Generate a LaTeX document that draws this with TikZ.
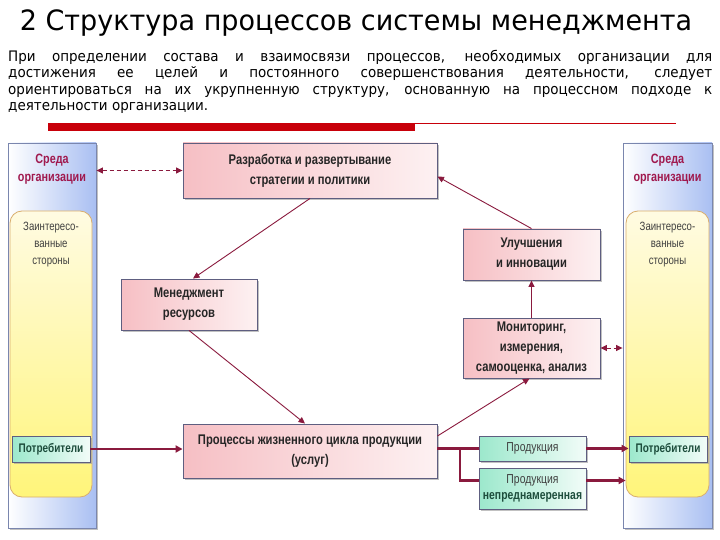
\documentclass[tikz,border=0pt]{standalone}
\usepackage{fontspec}
\setmainfont{DejaVu Sans}
\newfontfamily\titlefont[FakeStretch=0.965]{DejaVu Sans}
\newfontfamily\parafont[FakeStretch=0.93]{DejaVu Sans}
\newfontfamily\nar[FakeStretch=0.80]{Liberation Sans}
\usetikzlibrary{shadows,arrows.meta}
\definecolor{conn}{HTML}{8A1A3E}
\definecolor{boxborder}{HTML}{5E5E80}
\definecolor{pinkL}{HTML}{F6BFC4}
\definecolor{pinkR}{HTML}{FDF1F2}
\definecolor{mintL}{HTML}{9CE8CC}
\definecolor{mintR}{HTML}{F2FCF8}
\definecolor{envR}{HTML}{A9BFF2}
\definecolor{envBorder}{HTML}{7A86AE}
\definecolor{yelT}{HTML}{FFFBE2}
\definecolor{yelB}{HTML}{FFF57A}
\definecolor{yelBorder}{HTML}{D9AE6E}
\definecolor{envText}{HTML}{A0194E}
\definecolor{greenText}{HTML}{1D4D3C}
\definecolor{barRed}{HTML}{C8000A}
\tikzset{
  sh/.style={drop shadow={shadow xshift=2pt,shadow yshift=-2pt,fill=black!40,opacity=0.6}},
  pbox/.style={draw=boxborder, line width=0.9pt, left color=pinkL, right color=pinkR, sh,
    font=\nar\bfseries\fontsize{14}{20}\selectfont, align=center, text=black!85,
    inner sep=0pt},
  gbox/.style={draw=boxborder, line width=0.9pt, left color=mintL, right color=mintR, sh,
    font=\nar\fontsize{13}{16}\selectfont, align=center, text=black!75, inner sep=0pt},
  potr/.style={gbox, font=\nar\bfseries\fontsize{12.5}{16}\selectfont, text=greenText},
  envbox/.style={draw=envBorder, line width=0.9pt, left color=white, right color=envR, sh, inner sep=0pt},
  yelbox/.style={draw=yelBorder, line width=0.8pt, top color=yelT, bottom color=yelB,
    rounded corners=12pt, inner sep=0pt},
  envtxt/.style={font=\nar\bfseries\fontsize{13.5}{18}\selectfont, text=envText, align=center},
  stake/.style={font=\nar\fontsize{12}{17}\selectfont, text=black!75, align=center},
  conn/.style={draw=conn, line width=0.9pt, -{Triangle[length=6.5pt,width=6pt]}},
  dconn/.style={draw=conn, line width=0.9pt, dash pattern=on 4pt off 3pt,
    {Triangle[length=6.5pt,width=6pt]}-{Triangle[length=6.5pt,width=6pt]}},
  thick conn/.style={draw=conn, line width=2.6pt, -{Triangle[length=7pt,width=7pt]}},
  thick line/.style={draw=conn, line width=2.6pt},
}
\begin{document}
\begin{tikzpicture}[x=1pt,y=-1pt]
\useasboundingbox (0,0) rectangle (720,540);
\fill[white] (0,0) rectangle (720,540);

% title and paragraph
\node (title) at (356,23) {\titlefont\fontsize{28}{32}\selectfont 2 Структура процессов системы менеджмента};
\node[anchor=north west, inner sep=0pt, text width=704pt, align=justify,
  font=\parafont\fontsize{14.5}{16.5}\selectfont] (para) at (8,50)
  {При определении состава и взаимосвязи процессов, необходимых организации для\linebreak
   достижения ее целей и постоянного совершенствования деятельности, следует\linebreak
   ориентироваться на их укрупненную структуру, основанную на процессном подходе к\linebreak
   деятельности организации.};

% red bar
\fill[barRed] (48,123) rectangle (415,131);
\draw[barRed, line width=0.8pt] (415,123.4) -- (676,123.4);

% left environment column
\node[envbox, minimum width=88pt, minimum height=385pt] (envL) at (52,335.5) {};
\node[yelbox, minimum width=82pt, minimum height=286pt] (yelL) at (51,354) {};
\node[envtxt] (envLt) at (52,169) {Среда\\организации};
\node[stake] (stakeL) at (51,245) {Заинтересо-\\ванные\\стороны};
\node[potr, minimum width=78pt, minimum height=26pt] (potL) at (51,449) {Потребители};

% right environment column
\node[envbox, minimum width=89pt, minimum height=385pt] (envR) at (667.5,335.5) {};
\node[yelbox, minimum width=83pt, minimum height=286pt] (yelR) at (667.5,354) {};
\node[envtxt] (envRt) at (667.5,169) {Среда\\организации};
\node[stake] (stakeR) at (667.5,245) {Заинтересо-\\ванные\\стороны};
\node[potr, minimum width=78pt, minimum height=26pt] (potR) at (668,449) {Потребители};

% process boxes
\node[pbox, minimum width=254pt, minimum height=55pt] (raz) at (310,170.5)
  {Разработка и развертывание\\стратегии и политики};
\node[pbox, minimum width=136pt, minimum height=51pt] (men) at (189,304.5)
  {Менеджмент\\ресурсов};
\node[pbox, minimum width=137pt, minimum height=51pt] (ulu) at (531.5,254.5)
  {Улучшения\\и инновации};
\node[pbox, minimum width=137pt, minimum height=60pt] (mon) at (531.5,348)
  {Мониторинг,\\измерения,\\самооценка, анализ};
\node[pbox, minimum width=254pt, minimum height=54pt] (proc) at (310,451)
  {Процессы жизненного цикла продукции\\(услуг)};
\node[gbox, minimum width=107pt, minimum height=25pt] (prod1) at (532.5,448.5) {Продукция};
\node[gbox, minimum width=107pt, minimum height=41pt] (prod2) at (532.5,488.5)
  {Продукция\\\textbf{\textcolor{greenText}{непреднамеренная}}};

% connectors
\draw[dconn] (envL.east |- raz.west) -- (raz.west);
\draw[conn] (raz.south) -- ([xshift=4pt]men.north);
\draw[conn] (men.south) -- ([xshift=-5pt]proc.north);
\draw[conn] ([yshift=15pt]proc.east) -- ([xshift=-2pt]mon.south);
\draw[conn] (mon.north) -- (ulu.south);
\draw[conn] (ulu.north) -- ([yshift=-6pt]raz.east);
\draw[dconn] (mon.east) -- (mon.east -| envR.west);

\draw[thick conn] (potL.east) -- (potL.east -| proc.west);
\coordinate (br) at (460,0);
\draw[thick line] (proc.east |- prod1.west) -- (prod1.west);
\draw[thick line] (br |- prod1.west) |- ([yshift=8pt]prod2.west);
\draw[thick conn] (prod1.east) -- (prod1.east -| potR.west);
\draw[thick conn] ([yshift=8pt]prod2.east) -- ([yshift=8pt]prod2.east -| yelR.west);
\end{tikzpicture}
\end{document}
